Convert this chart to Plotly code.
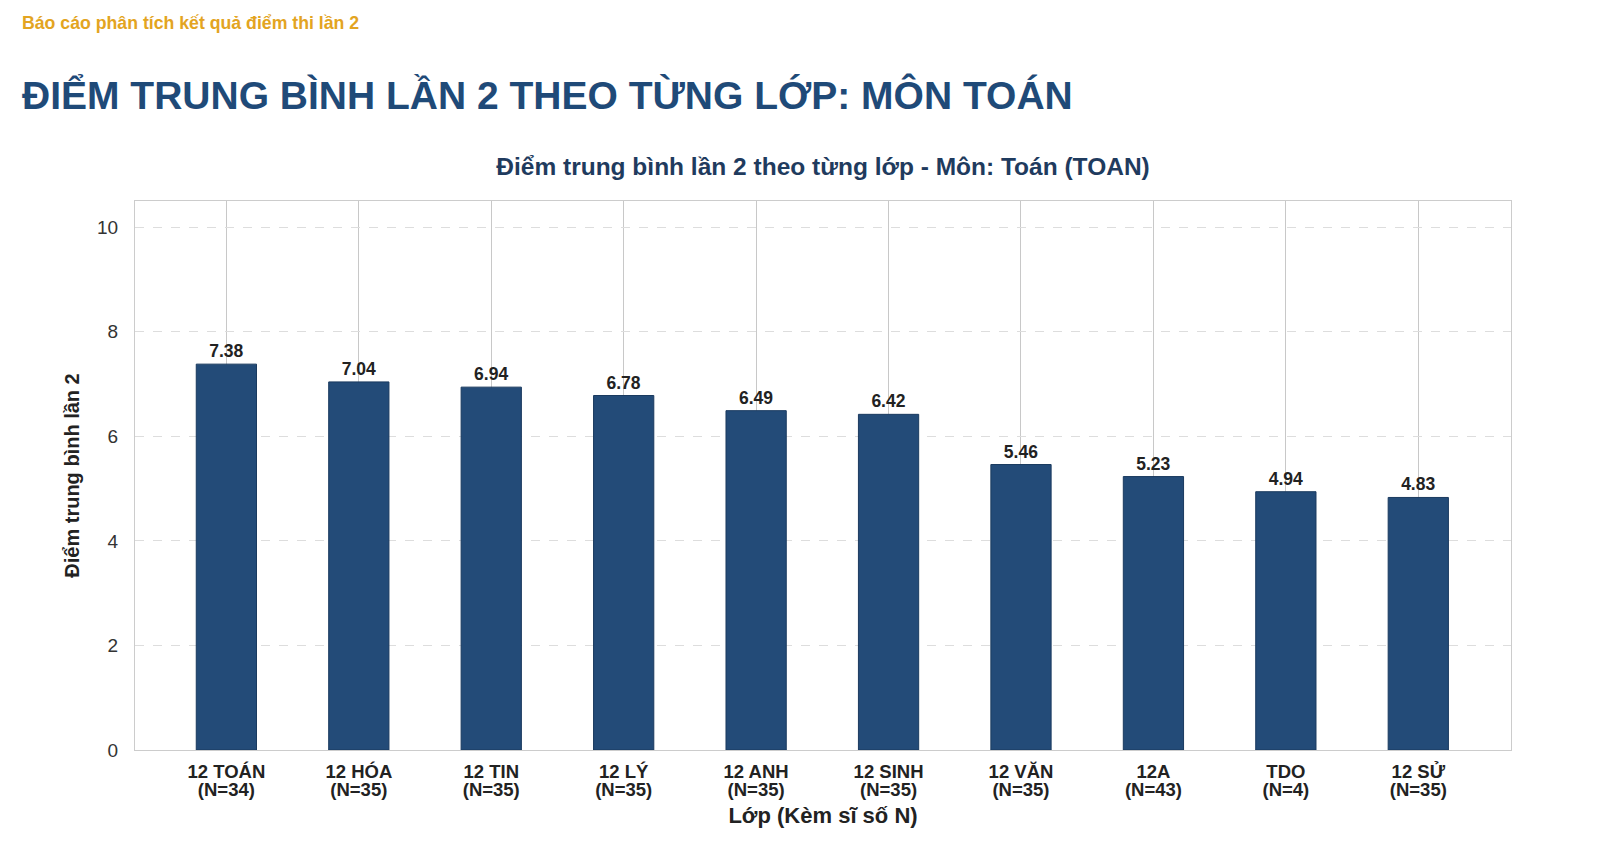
import plotly.graph_objects as go

classes = ["12 TOÁN", "12 HÓA", "12 TIN", "12 LÝ", "12 ANH",
           "12 SINH", "12 VĂN", "12A", "TDO", "12 SỬ"]
counts = [34, 35, 35, 35, 35, 35, 35, 43, 4, 35]
scores = [7.38, 7.04, 6.94, 6.78, 6.49, 6.42, 5.46, 5.23, 4.94, 4.83]

n_labels = [f"(N={n})" for n in counts]

FONT = "Liberation Sans, Arial, sans-serif"
NAVY = "#234b78"

W, H = 1600, 865
L, R, T, B = 127, 97, 193, 123
PW, PH = W - L - R, H - T - B
XRANGE = [-0.69, 9.7]

fig = go.Figure()

fig.add_trace(go.Bar(
    x=classes,
    y=scores,
    width=0.455,
    marker=dict(color=NAVY, line=dict(color="#1a3a5f", width=1)),
    text=[f"<b>{s:.2f}</b>" for s in scores],
    textposition="outside",
    textfont=dict(family=FONT, size=17.5, color="#222222"),
    cliponaxis=False,
    hoverinfo="skip",
))

# invisible copy, only there to carry the "(N=..)" second tick line
fig.add_trace(go.Bar(
    x=classes,
    y=scores,
    xaxis="x2",
    opacity=0,
    hoverinfo="skip",
    showlegend=False,
))

fig.update_layout(
    width=W,
    height=H,
    paper_bgcolor="white",
    plot_bgcolor="white",
    margin=dict(l=L, r=R, t=T, b=B),
    showlegend=False,
    font=dict(family=FONT, color="#222222"),
    title=dict(
        text="<b>Điểm trung bình lần 2 theo từng lớp - Môn: Toán (TOAN)</b>",
        x=0.5, xref="paper", xanchor="center",
        y=1 - 158 / H, yanchor="middle",
        font=dict(family=FONT, size=24.5, color="#1f3b5e"),
    ),
    xaxis=dict(
        type="category",
        range=XRANGE,
        title=dict(text="<b>Lớp (Kèm sĩ số N)</b>", font=dict(size=22, color="#222222"), standoff=26),
        tickfont=dict(family=FONT, size=18.5, color="#222222"),
        tickprefix="<b>", ticksuffix="</b>",
        showgrid=True, gridcolor="#c8c8c8", gridwidth=1,
        showline=True, linecolor="#cccccc", mirror=True,
        ticks="outside", ticklen=5, tickcolor="rgba(0,0,0,0)",
    ),
    xaxis2=dict(
        overlaying="x", side="bottom", type="category",
        range=XRANGE,
        showgrid=False, showline=False, zeroline=False,
        ticks="outside", ticklen=5, tickcolor="rgba(0,0,0,0)",
        ticklabelstandoff=18,
        tickvals=classes, ticktext=[f"<b>{t}</b>" for t in n_labels],
        tickfont=dict(family=FONT, size=18.5, color="#222222"),
    ),
    yaxis=dict(
        title=dict(text="<b>Điểm trung bình lần 2</b>", font=dict(size=20, color="#222222"), standoff=12),
        range=[0, 10.5],
        tickvals=[0, 2, 4, 6, 8, 10],
        tickfont=dict(family=FONT, size=19, color="#333333"),
        showgrid=True, gridcolor="#dddddd", griddash="dash", gridwidth=1,
        showline=True, linecolor="#cccccc", mirror=True,
        zeroline=False,
        ticks="outside", ticklen=12, tickcolor="rgba(0,0,0,0)",
    ),
)

fig.add_annotation(
    text="<b>Báo cáo phân tích kết quả điểm thi lần 2</b>",
    xref="paper", yref="paper",
    x=(12 - L) / PW, y=1 + (T - 15) / PH,
    xanchor="left", yanchor="middle", showarrow=False,
    font=dict(family=FONT, size=17.7, color="#e3a421"),
)

fig.add_annotation(
    text="<b>ĐIỂM TRUNG BÌNH LẦN 2 THEO TỪNG LỚP: MÔN TOÁN</b>",
    xref="paper", yref="paper",
    x=(12 - L) / PW, y=1 + (T - 87) / PH,
    xanchor="left", yanchor="middle", showarrow=False,
    font=dict(family=FONT, size=39, color="#1f4a78"),
)

fig.write_html("out.html")
